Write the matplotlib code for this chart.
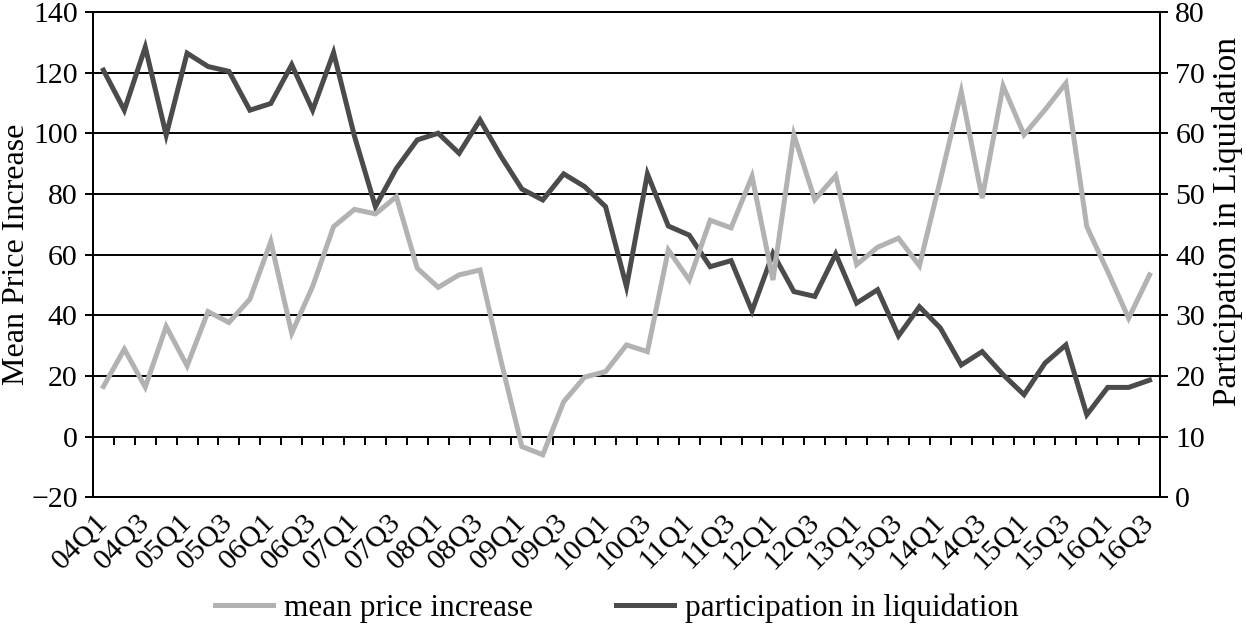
import numpy as np
import matplotlib
matplotlib.use("Agg")
import matplotlib.pyplot as plt

plt.rcParams['font.family'] = ['Liberation Serif', 'DejaVu Serif']
plt.rcParams['font.size'] = 21.5

# quarters 04Q1 .. 16Q3
quarters = ['04Q1', '04Q2', '04Q3', '04Q4', '05Q1', '05Q2', '05Q3', '05Q4',
            '06Q1', '06Q2', '06Q3', '06Q4', '07Q1', '07Q2', '07Q3', '07Q4',
            '08Q1', '08Q2', '08Q3', '08Q4', '09Q1', '09Q2', '09Q3', '09Q4',
            '10Q1', '10Q2', '10Q3', '10Q4', '11Q1', '11Q2', '11Q3', '11Q4',
            '12Q1', '12Q2', '12Q3', '12Q4', '13Q1', '13Q2', '13Q3', '13Q4',
            '14Q1', '14Q2', '14Q3', '14Q4', '15Q1', '15Q2', '15Q3', '15Q4',
            '16Q1', '16Q2', '16Q3']

mean_price = [16.5, 28.8, 16.3, 36.3, 23.3, 41.2, 37.6, 45.3, 64.3, 34.1,
              49.5, 69.2, 74.9, 73.4, 79.1, 55.5, 49.2, 53.3, 54.9, 25.0,
              -3.3, -6.0, 11.5, 19.6, 21.4, 30.2, 28.0, 61.5, 51.6, 71.3,
              68.8, 85.8, 51.6, 99.5, 78.1, 86.0, 56.7, 62.4, 65.4, 56.3,
              84.6, 113.7, 78.6, 115.6, 99.5, 107.7, 116.5, 69.2, 54.4, 39.0,
              53.3]

participation = [70.4, 63.8, 74.2, 59.7, 73.2, 71.0, 70.2, 63.8, 64.9, 71.3,
                 63.8, 73.3, 59.5, 47.9, 54.2, 58.9, 60.0, 56.7, 62.2, 56.2,
                 50.8, 49.0, 53.3, 51.2, 47.9, 34.7, 53.3, 44.7, 43.2, 38.0,
                 39.0, 30.7, 40.2, 33.9, 33.1, 40.1, 32.0, 34.2, 26.6, 31.4,
                 27.9, 21.8, 24.0, 20.2, 16.9, 22.1, 25.1, 13.6, 18.1, 18.1,
                 19.3]

left_ticks = np.arange(-20, 141, 20)
right_ticks = np.arange(0, 81, 10)

light = '#b2b2b2'
dark = '#4b4b4b'

fig = plt.figure(figsize=(12.46, 6.27), dpi=100)
ax = fig.add_axes([0.0746, 0.207, 0.931 - 0.0746, 0.981 - 0.207])
ax2 = ax.twinx()

# left axes goes on top so the light line is drawn over the dark one
ax.set_zorder(ax2.get_zorder() + 1)
ax.patch.set_visible(False)
ax2.patch.set_visible(True)

x = np.arange(len(quarters))
l2, = ax2.plot(x, participation, color=dark, lw=3.6, solid_joinstyle='miter',
               label='participation in liquidation')
l1, = ax.plot(x, mean_price, color=light, lw=3.6, solid_joinstyle='miter',
              label='mean price increase')

ax.set_xlim(-0.5, len(quarters) - 0.5)
ax.set_ylim(-20, 140)
ax2.set_ylim(0, 80)
ax.set_yticks(left_ticks)
ax2.set_yticks(right_ticks)

# horizontal grid (same lines for both scales)
ax2.grid(axis='y', color='black', lw=1.4)
ax2.set_axisbelow(True)

ax.set_xticks(x[::2])
ax.set_xticklabels(quarters[::2], rotation=45, ha='right', va='center',
                   rotation_mode='anchor')
ax.tick_params(axis='x', length=0, pad=15)
ax.tick_params(axis='y', direction='out', length=6, width=1.4, pad=5)
ax2.tick_params(axis='y', direction='out', length=6, width=1.4, pad=5)

# category tick marks sitting on the zero line
sec = ax.secondary_xaxis(0.125)
sec.set_xticks(np.arange(0.5, len(quarters) - 1, 1))
sec.tick_params(axis='x', direction='out', length=6, width=1.4, labelbottom=False,
                labeltop=False)
for s in sec.spines.values():
    s.set_visible(False)

for a in (ax, ax2):
    for s in a.spines.values():
        s.set_color('black')
        s.set_linewidth(1.4)

ax.set_ylabel('Mean Price Increase', fontsize=23, labelpad=0)
ax2.set_ylabel('Participation in Liquidation', fontsize=24)
ax2.yaxis.set_label_coords(1.049, 0.569)

fig.legend(handles=[l1, l2], loc='center', bbox_to_anchor=(0.495, 0.03), ncol=2,
           frameon=False, fontsize=22.5, handlelength=1.85, handletextpad=0.35,
           columnspacing=2.65)

fig.savefig('out.png', dpi=100)
